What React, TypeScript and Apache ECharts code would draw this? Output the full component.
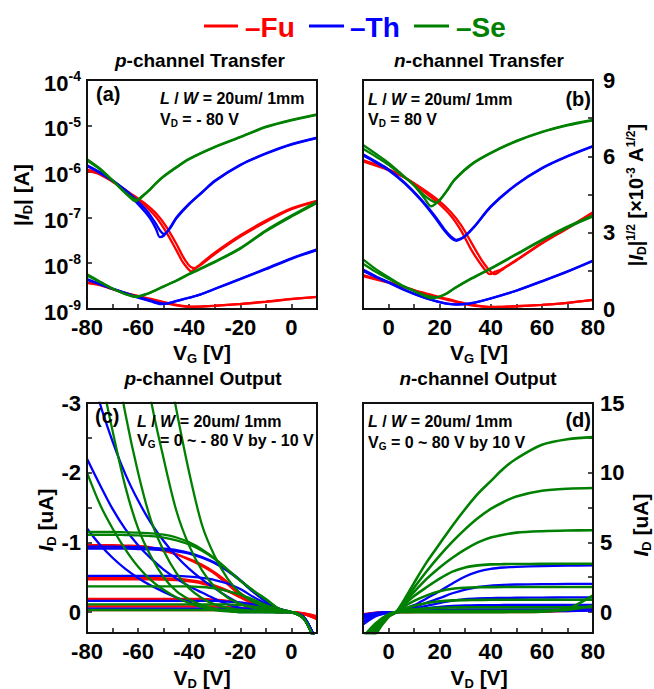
import React, { useEffect, useRef } from 'react';
import * as echarts from 'echarts';

const FONT = '"Liberation Sans", Arial, Helvetica, sans-serif';
const RED = '#ff0000';
const BLUE = '#0000ff';
const GREEN = '#008000';
const INK = '#111111';

// ---------- (a) p-channel transfer, V_D = -80 V : |I_D| in A ----------
const aFuV1 = [-80, -75, -70, -65, -61, -57, -53, -49, -45, -42.5, -40.5, -39.2, -38, -35, -30, -20, -10, 0, 10];
const aFuI1 = [1.10e-6, 9.12e-7, 6.17e-7, 3.89e-7, 2.63e-7, 1.74e-7, 1.02e-7, 4.79e-8, 1.91e-8, 1.05e-8, 7.59e-9, 6.61e-9, 7.41e-9, 9.55e-9, 1.58e-8, 3.80e-8, 7.94e-8, 1.51e-7, 2.24e-7];
const aFuV2 = [-80, -75, -70, -65, -61, -57, -53, -49, -45, -42.5, -40.5, -39.2, -37.9, -36.5, -35, -30, -20, -10, 0, 10];
const aFuI2 = [1.05e-6, 8.71e-7, 6.03e-7, 3.98e-7, 2.82e-7, 1.95e-7, 1.23e-7, 6.31e-8, 2.63e-8, 1.41e-8, 9.55e-9, 8.13e-9, 7.76e-9, 8.71e-9, 1.02e-8, 1.70e-8, 4.07e-8, 8.51e-8, 1.58e-7, 2.29e-7];
const aThV1 = [-80, -75, -70, -65, -61, -57, -55, -53, -51.5, -50, -48.5, -47, -45, -40, -35, -30, -20, -10, 0, 10];
const aThI1 = [1.38e-6, 9.77e-7, 6.46e-7, 3.80e-7, 2.24e-7, 1.26e-7, 8.91e-8, 5.62e-8, 3.72e-8, 3.98e-8, 5.01e-8, 6.61e-8, 1.00e-7, 2.00e-7, 3.55e-7, 6.31e-7, 1.41e-6, 2.51e-6, 3.98e-6, 5.50e-6];
const aThV2 = [-80, -75, -70, -65, -61, -57, -55, -53, -51.5, -50, -49, -47.5, -45, -40, -35, -30, -20, -10, 0, 10];
const aThI2 = [1.32e-6, 9.33e-7, 6.31e-7, 3.98e-7, 2.51e-7, 1.48e-7, 1.07e-7, 7.24e-8, 5.25e-8, 4.37e-8, 4.57e-8, 5.75e-8, 9.55e-8, 1.95e-7, 3.47e-7, 6.17e-7, 1.38e-6, 2.45e-6, 3.89e-6, 5.37e-6];
const aSeV1 = [-80, -75, -70, -65, -62, -61, -59, -56, -53, -50, -45, -40, -30, -20, -10, 0, 10];
const aSeI1 = [1.86e-6, 1.17e-6, 6.46e-7, 3.39e-7, 2.40e-7, 2.24e-7, 2.75e-7, 3.80e-7, 5.62e-7, 7.94e-7, 1.26e-6, 1.91e-6, 3.47e-6, 5.75e-6, 9.55e-6, 1.35e-5, 1.78e-5];
const aSeV2 = [-80, -75, -70, -65, -62, -60, -58, -56, -53, -50, -45, -40, -30, -20, -10, 0, 10];
const aSeI2 = [1.74e-6, 1.12e-6, 6.31e-7, 3.47e-7, 2.63e-7, 2.40e-7, 2.95e-7, 3.72e-7, 5.50e-7, 7.76e-7, 1.23e-6, 1.86e-6, 3.39e-6, 5.62e-6, 9.33e-6, 1.32e-5, 1.74e-5];

// ---------- (b) n-channel transfer, V_D = 80 V ----------
const bFuV1 = [-10, 0, 6.3, 12.8, 19.3, 24.6, 28.5, 32.4, 36.3, 38.9, 39.8, 41.5, 44.2, 50, 60, 70, 80];
const bFuI1 = [1.78e-6, 1.12e-6, 7.41e-7, 4.07e-7, 2.09e-7, 1.05e-7, 5.01e-8, 1.95e-8, 9.12e-9, 6.03e-9, 5.75e-9, 6.46e-9, 7.41e-9, 1.17e-8, 2.75e-8, 5.89e-8, 1.29e-7];
const bFuV2 = [-10, 0, 6.3, 12.8, 19.3, 24.6, 28.5, 32.4, 36.3, 38.9, 40.5, 41.6, 43, 45, 50, 60, 70, 80];
const bFuI2 = [1.66e-6, 1.07e-6, 7.41e-7, 4.37e-7, 2.40e-7, 1.26e-7, 6.61e-8, 2.82e-8, 1.20e-8, 7.59e-9, 6.17e-9, 5.75e-9, 6.31e-9, 7.59e-9, 1.15e-8, 2.69e-8, 5.75e-8, 1.26e-7];
const bThV = [-10, -5, 0, 6.3, 12.8, 18, 22, 24.5, 26.5, 28, 29.8, 33.7, 40, 50, 60, 70, 80];
const bThI1 = [2.40e-6, 1.66e-6, 1.12e-6, 5.75e-7, 2.45e-7, 1.10e-7, 5.37e-8, 3.80e-8, 3.24e-8, 3.39e-8, 3.89e-8, 6.46e-8, 1.74e-7, 5.25e-7, 1.20e-6, 2.19e-6, 3.63e-6];
const bThI2 = [2.24e-6, 1.58e-6, 1.07e-6, 5.50e-7, 2.34e-7, 1.02e-7, 5.01e-8, 3.55e-8, 3.09e-8, 3.31e-8, 3.80e-8, 6.31e-8, 1.70e-7, 5.13e-7, 1.17e-6, 2.14e-6, 3.55e-6];
const bSeV1 = [-10, -5, 0, 5, 10, 14, 16.7, 18.5, 20.7, 23, 25.9, 32.4, 40, 50, 60, 70, 80];
const bSeI1 = [3.80e-6, 2.45e-6, 1.55e-6, 8.91e-7, 5.01e-7, 2.63e-7, 1.74e-7, 2.00e-7, 2.69e-7, 3.98e-7, 6.76e-7, 1.45e-6, 2.57e-6, 4.68e-6, 7.41e-6, 1.05e-5, 1.35e-5];
const bSeV2 = [-10, -5, 0, 5, 10, 14, 16.7, 18.7, 20.7, 23, 25.9, 32.4, 40, 50, 60, 70, 80];
const bSeI2 = [3.16e-6, 2.14e-6, 1.41e-6, 8.51e-7, 5.01e-7, 3.02e-7, 2.34e-7, 2.09e-7, 2.63e-7, 3.89e-7, 6.61e-7, 1.41e-6, 2.51e-6, 4.57e-6, 7.24e-6, 1.02e-5, 1.32e-5];

// ---------- (c) p-channel output, I_D in uA ----------
const vdP = [-80, -75, -70, -65, -60, -55, -50, -45, -40, -35, -30, -25, -20, -15, -10, -5, 0, 5, 10];
const cFu80a = [-0.96, -0.96, -0.96, -0.955, -0.95, -0.93, -0.89, -0.83, -0.75, -0.66, -0.55, -0.40, -0.24, -0.13, -0.06, -0.02, 0, 0.03, 0.1];
const cFu80b = [-0.93, -0.93, -0.93, -0.925, -0.92, -0.91, -0.88, -0.83, -0.76, -0.68, -0.57, -0.43, -0.27, -0.15, -0.07, -0.02, 0, 0.03, 0.1];
const cFu70a = [-0.49, -0.49, -0.49, -0.49, -0.49, -0.49, -0.485, -0.48, -0.46, -0.43, -0.38, -0.31, -0.22, -0.13, -0.06, -0.02, 0, 0.03, 0.09];
const cFu70b = [-0.47, -0.47, -0.47, -0.47, -0.47, -0.47, -0.465, -0.46, -0.44, -0.41, -0.36, -0.30, -0.21, -0.12, -0.06, -0.02, 0, 0.03, 0.09];
const cFu60 = [-0.19, -0.19, -0.19, -0.19, -0.19, -0.19, -0.19, -0.19, -0.19, -0.19, -0.18, -0.16, -0.13, -0.09, -0.05, -0.02, 0, 0.03, 0.08];
const cFu50 = [-0.08, -0.08, -0.08, -0.08, -0.08, -0.08, -0.08, -0.08, -0.08, -0.08, -0.08, -0.07, -0.06, -0.05, -0.03, -0.01, 0, 0.02, 0.07];
const cFu40 = [-0.03, -0.03, -0.03, -0.03, -0.03, -0.03, -0.03, -0.03, -0.03, -0.03, -0.03, -0.03, -0.02, -0.02, -0.01, 0, 0, 0.02, 0.06];
const cTh80a = [-0.94, -0.94, -0.94, -0.935, -0.93, -0.92, -0.91, -0.89, -0.85, -0.79, -0.71, -0.60, -0.46, -0.30, -0.16, -0.05, 0, 0.08, 0.45];
const cTh80b = [-0.91, -0.91, -0.91, -0.91, -0.905, -0.9, -0.89, -0.87, -0.84, -0.78, -0.70, -0.59, -0.45, -0.29, -0.15, -0.05, 0, 0.08, 0.45];
const cTh70 = [-0.52, -0.52, -0.52, -0.52, -0.52, -0.52, -0.52, -0.52, -0.51, -0.49, -0.46, -0.41, -0.33, -0.22, -0.12, -0.04, 0, 0.08, 0.45];
const cTh60 = [-0.16, -0.16, -0.16, -0.16, -0.16, -0.16, -0.16, -0.16, -0.16, -0.16, -0.16, -0.15, -0.14, -0.11, -0.07, -0.02, 0, 0.08, 0.45];
const cTh50 = [-0.05, -0.05, -0.05, -0.05, -0.05, -0.05, -0.05, -0.05, -0.05, -0.05, -0.05, -0.05, -0.05, -0.04, -0.03, -0.01, 0, 0.08, 0.45];
const cThAmb1 = [-2.2, -1.83, -1.48, -1.19, -0.96, -0.77, -0.61, -0.48, -0.37, -0.28, -0.19, -0.11, -0.06, -0.03, -0.01, 0, 0, 0.08, 0.45];
const cThAmb2 = [-3.7, -3.0, -2.45, -1.98, -1.60, -1.28, -1.02, -0.80, -0.62, -0.47, -0.34, -0.22, -0.12, -0.05, -0.02, 0, 0, 0.08, 0.45];
const cThAmb3 = [-1.2, -0.97, -0.78, -0.62, -0.49, -0.38, -0.29, -0.21, -0.14, -0.08, -0.04, -0.02, 0, 0, 0, 0, 0, 0.08, 0.45];
const cSe80a = [-1.15, -1.15, -1.15, -1.145, -1.14, -1.13, -1.11, -1.07, -1.00, -0.90, -0.77, -0.61, -0.45, -0.31, -0.19, -0.05, 0, 0.1, 0.5];
const cSe80b = [-1.11, -1.11, -1.11, -1.105, -1.1, -1.09, -1.07, -1.03, -0.97, -0.88, -0.76, -0.61, -0.45, -0.31, -0.18, -0.05, 0, 0.1, 0.5];
const cSe70 = [-0.37, -0.37, -0.37, -0.37, -0.37, -0.37, -0.37, -0.37, -0.37, -0.36, -0.34, -0.30, -0.25, -0.18, -0.10, -0.03, 0, 0.1, 0.5];
const cSe60 = [-0.11, -0.11, -0.11, -0.11, -0.11, -0.11, -0.11, -0.11, -0.11, -0.11, -0.11, -0.11, -0.10, -0.08, -0.05, -0.02, 0, 0.1, 0.5];
const cSe50 = [-0.03, -0.03, -0.03, -0.03, -0.03, -0.03, -0.03, -0.03, -0.03, -0.03, -0.03, -0.03, -0.03, -0.02, -0.01, 0, 0, 0.1, 0.5];
const cSeAmbA = [null, null, null, null, null, -5.0, -3.9, -2.9, -2.0, -1.25, -0.80, -0.48, -0.27, -0.15, -0.07, -0.02, 0, 0.1, 0.5];
const cSeAmbB = [null, null, null, null, -4.3, -3.05, -2.2, -1.45, -0.95, -0.60, -0.36, -0.21, -0.12, -0.06, -0.02, 0, 0, 0.1, 0.5];
const cSeAmbC = [null, null, -3.9, -2.85, -2.0, -1.32, -0.88, -0.56, -0.34, -0.20, -0.11, -0.06, -0.03, -0.01, 0, 0, 0, 0.1, 0.5];
const cSeAmbD = [-4.6, -3.5, -2.6, -1.8, -1.2, -0.80, -0.50, -0.30, -0.18, -0.10, -0.05, -0.02, 0, 0, 0, 0, 0, 0.1, 0.5];
const cSeAmbE = [-2.0, -1.55, -1.2, -0.9, -0.65, -0.46, -0.32, -0.21, -0.13, -0.07, -0.03, -0.01, 0, 0, 0, 0, 0, 0.1, 0.5];

// ---------- (d) n-channel output, I_D in uA ----------
const vdN = [-10, -5, 0, 3, 5, 10, 15, 20, 25, 30, 35, 40, 45, 50, 60, 70, 80];
const dFu80 = [-0.3, -0.08, -0.01, 0, 0.01, 0.02, 0.04, 0.05, 0.06, 0.07, 0.08, 0.08, 0.09, 0.1, 0.13, 0.2, 0.35];
const dFu70 = [-0.2, -0.05, 0, 0, 0, 0.01, 0.02, 0.03, 0.03, 0.04, 0.04, 0.05, 0.05, 0.05, 0.07, 0.12, 0.22];
const dFu0 = [-0.15, -0.04, 0, 0, 0, 0, 0, 0, 0, 0, 0, 0, 0, 0, 0.02, 0.08, 0.15];
const dTh80 = [-0.9, -0.3, -0.05, 0, 0.15, 0.5, 1.0, 1.5, 2.05, 2.55, 2.9, 3.1, 3.2, 3.25, 3.3, 3.33, 3.35];
const dTh70 = [-0.7, -0.25, -0.04, 0, 0.1, 0.35, 0.68, 1.0, 1.35, 1.62, 1.8, 1.9, 1.95, 1.98, 2.0, 2.02, 2.03];
const dTh60 = [-0.5, -0.18, -0.03, 0, 0.07, 0.25, 0.45, 0.65, 0.82, 0.93, 0.98, 1.0, 1.02, 1.03, 1.04, 1.05, 1.05];
const dTh50 = [-0.35, -0.12, -0.02, 0, 0.04, 0.15, 0.28, 0.38, 0.44, 0.48, 0.5, 0.5, 0.51, 0.52, 0.52, 0.52, 0.52];
const dTh40 = [-0.25, -0.08, -0.01, 0, 0.02, 0.07, 0.12, 0.16, 0.18, 0.19, 0.2, 0.2, 0.2, 0.2, 0.2, 0.2, 0.2];
const dTh30 = [-0.18, -0.05, 0, 0, 0.01, 0.03, 0.05, 0.06, 0.07, 0.07, 0.07, 0.07, 0.07, 0.07, 0.07, 0.08, 0.1];
const dSe80 = [-3.5, -1.6, -0.35, 0, 0.55, 2.1, 3.6, 4.9, 6.2, 7.4, 8.5, 9.4, 10.3, 11.0, 12.0, 12.4, 12.55];
const dSe70 = [-3.2, -1.5, -0.32, 0, 0.48, 1.75, 2.95, 4.05, 5.05, 5.95, 6.75, 7.4, 7.9, 8.3, 8.7, 8.85, 8.9];
const dSe60 = [-2.9, -1.4, -0.3, 0, 0.42, 1.45, 2.4, 3.2, 3.9, 4.5, 5.0, 5.35, 5.55, 5.7, 5.8, 5.85, 5.87];
const dSe50 = [-2.6, -1.3, -0.27, 0, 0.35, 1.15, 1.8, 2.4, 2.9, 3.2, 3.35, 3.42, 3.44, 3.45, 3.46, 3.47, 3.47];
const dSe40 = [-2.4, -1.2, -0.25, 0, 0.28, 0.8, 1.2, 1.5, 1.68, 1.75, 1.78, 1.79, 1.8, 1.8, 1.8, 1.8, 1.8];
const dSe30 = [-2.2, -1.1, -0.22, 0, 0.18, 0.45, 0.65, 0.78, 0.84, 0.86, 0.87, 0.88, 0.88, 0.88, 0.88, 0.88, 0.88];
const dSe20 = [-2.0, -1.0, -0.2, 0, 0.1, 0.2, 0.27, 0.31, 0.33, 0.34, 0.35, 0.35, 0.35, 0.35, 0.35, 0.35, 0.36];
const dSe10 = [-1.9, -0.9, -0.18, 0, 0.03, 0.06, 0.08, 0.09, 0.1, 0.1, 0.1, 0.1, 0.1, 0.1, 0.11, 0.16, 0.45];
const dSe0 = [-1.8, -0.8, -0.15, 0, 0, 0, 0, 0, 0, 0, 0, 0, 0, 0.01, 0.03, 0.25, 1.2];

// ---------- axis ticks / labels ----------
const tickP = [-80, -70, -60, -50, -40, -30, -20, -10, 0, 10];
const labP = [-80, -60, -40, -20, 0];
const tickN = [-10, 0, 10, 20, 30, 40, 50, 60, 70, 80];
const labN = [0, 20, 40, 60, 80];
const sqrtTicks = [0, 1.5, 3, 4.5, 6, 7.5, 9];
const sqrtLabels = [0, 3, 6, 9];
const cTicks = [-3, -2.5, -2, -1.5, -1, -0.5, 0];
const cLabels = [-3, -2, -1, 0];
const dTicks = [0, 2.5, 5, 7.5, 10, 12.5, 15];
const dLabels = [0, 5, 10, 15];

function rich(fs: number) {
  const sub = Math.round(fs * 0.62);
  const pad = Math.round(fs * 0.55);
  return {
    r: { fontSize: fs, fontWeight: 'bold', fontFamily: FONT },
    i: { fontSize: fs, fontWeight: 'bold', fontStyle: 'italic', fontFamily: FONT },
    s: { fontSize: sub, fontWeight: 'bold', fontFamily: FONT, padding: [pad, 0, 0, 0] },
    p: { fontSize: sub, fontWeight: 'bold', fontFamily: FONT, padding: [0, 0, pad, 0] },
  };
}

function txt(x: number, y: number, text: string, fs: number, opts: any = {}) {
  const { align = 'left', rotation = 0, fill = '#000' } = opts;
  return {
    type: 'text',
    x,
    y,
    rotation,
    z: 100,
    silent: true,
    style: {
      text,
      rich: rich(fs),
      fill,
      fontSize: fs,
      fontWeight: 'bold',
      fontFamily: FONT,
      align,
      textAlign: align,
      verticalAlign: 'middle',
      textVerticalAlign: 'middle',
    },
  };
}

function frame(x: number, y: number, w: number, h: number) {
  return {
    type: 'rect',
    z: 90,
    silent: true,
    shape: { x, y, width: w, height: h },
    style: { fill: 'none', stroke: INK, lineWidth: 2 },
  };
}

function line(xi: number, yi: number, xs: number[], ys: (number | null)[], color: string, width = 2.3) {
  const data: number[][] = [];
  xs.forEach((x, k) => {
    const y = ys[k];
    if (y !== null && y !== undefined) data.push([x, y]);
  });
  return {
    type: 'line',
    xAxisIndex: xi,
    yAxisIndex: yi,
    data,
    symbol: 'none',
    showSymbol: false,
    smooth: 0.3,
    silent: true,
    clip: true,
    lineStyle: { color, width },
    emphasis: { disabled: true },
  };
}

const sq = (arr: number[]) => arr.map((v) => Math.sqrt(v) * 1e3);

const tickStyle = { color: INK, width: 1.5 };
const labelBase = { fontSize: 22, fontWeight: 'bold', fontFamily: FONT, color: '#000' };

function xAxis(gridIndex: number, min: number, max: number, ticks: number[], labels: number[]) {
  return {
    type: 'value',
    gridIndex,
    min,
    max,
    position: 'bottom',
    axisLine: { show: false, onZero: false },
    axisTick: { show: true, inside: true, length: 5, customValues: ticks, lineStyle: tickStyle },
    axisLabel: { ...labelBase, customValues: labels, margin: 7 },
    splitLine: { show: false },
  };
}

function yAxis(gridIndex: number, min: number, max: number, ticks: number[], labels: number[], position: string, margin: number, extra: any = {}) {
  return {
    type: 'value',
    gridIndex,
    min,
    max,
    position,
    axisLine: { show: false, onZero: false },
    axisTick: { show: true, inside: true, length: 5, customValues: ticks, lineStyle: tickStyle },
    axisLabel: { ...labelBase, customValues: labels, margin },
    splitLine: { show: false },
    ...extra,
  };
}

function buildOption() {
  const gridBase = { show: false, containLabel: false };
  const G = [
    { left: 87, top: 80, width: 230, height: 229 },
    { left: 363, top: 80, width: 230, height: 229 },
    { left: 87, top: 403, width: 230, height: 230 },
    { left: 363, top: 403, width: 230, height: 230 },
  ];
  const grid = G.map((g) => ({ ...gridBase, ...g }));
  const xAxes = [
    xAxis(0, -80, 10, tickP, labP),
    xAxis(1, -10, 80, tickN, labN),
    xAxis(2, -80, 10, tickP, labP),
    xAxis(3, -10, 80, tickN, labN),
  ];
  const yAxes = [
    {
      type: 'log',
      gridIndex: 0,
      min: 1e-9,
      max: 1e-4,
      logBase: 10,
      position: 'left',
      axisLine: { show: false, onZero: false },
      axisTick: { show: true, inside: true, length: 5, lineStyle: tickStyle },
      splitLine: { show: false },
      axisLabel: {
        margin: 6,
        color: '#000',
        formatter: (v: number) => `{m|10}{s|${Math.round(Math.log10(v))}}`,
        rich: {
          m: { fontSize: 22, fontWeight: 'bold', fontFamily: FONT, padding: [6, 0, 0, 0] },
          s: { fontSize: 14, fontWeight: 'bold', fontFamily: FONT, padding: [0, 0, 8, 0] },
        },
      },
    },
    { type: 'value', gridIndex: 0, min: 0, max: 9, position: 'right', show: false, axisLine: { onZero: false } },
    { type: 'log', gridIndex: 1, min: 1e-9, max: 1e-4, logBase: 10, position: 'left', show: false, axisLine: { onZero: false } },
    yAxis(1, 0, 9, sqrtTicks, sqrtLabels, 'right', 10),
    yAxis(2, -3, 0.3, cTicks, cLabels, 'left', 6, { inverse: true }),
    yAxis(3, -1.5, 15, dTicks, dLabels, 'right', 7),
  ];

  const series: any[] = [];
  // (a)
  const aSets: [number[], number[], string][] = [
    [aFuV1, aFuI1, RED], [aFuV2, aFuI2, RED],
    [aThV1, aThI1, BLUE], [aThV2, aThI2, BLUE],
    [aSeV1, aSeI1, GREEN], [aSeV2, aSeI2, GREEN],
  ];
  aSets.forEach(([v, i, c]) => {
    series.push(line(0, 0, v, i, c));
    series.push(line(0, 1, v, sq(i), c));
  });
  // (b)
  const bSets: [number[], number[], string][] = [
    [bFuV1, bFuI1, RED], [bFuV2, bFuI2, RED],
    [bThV, bThI1, BLUE], [bThV, bThI2, BLUE],
    [bSeV1, bSeI1, GREEN], [bSeV2, bSeI2, GREEN],
  ];
  bSets.forEach(([v, i, c]) => {
    series.push(line(1, 2, v, i, c));
    series.push(line(1, 3, v, sq(i), c));
  });
  // (c)
  [cFu80a, cFu80b, cFu70a, cFu70b, cFu60, cFu50, cFu40].forEach((y) => series.push(line(2, 4, vdP, y, RED)));
  [cTh80a, cTh80b, cTh70, cTh60, cTh50, cThAmb1, cThAmb2, cThAmb3].forEach((y) => series.push(line(2, 4, vdP, y, BLUE)));
  [cSe80a, cSe80b, cSe70, cSe60, cSe50, cSeAmbA, cSeAmbB, cSeAmbC, cSeAmbD, cSeAmbE].forEach((y) => series.push(line(2, 4, vdP, y, GREEN)));
  // (d)
  [dFu80, dFu70, dFu0].forEach((y) => series.push(line(3, 5, vdN, y, RED)));
  [dTh80, dTh70, dTh60, dTh50, dTh40, dTh30].forEach((y) => series.push(line(3, 5, vdN, y, BLUE)));
  [dSe80, dSe70, dSe60, dSe50, dSe40, dSe30, dSe20, dSe10, dSe0].forEach((y) => series.push(line(3, 5, vdN, y, GREEN, 2.6)));

  const legendY = 26;
  const graphic: any[] = [
    ...G.map((g) => frame(g.left, g.top, g.width, g.height)),
    { type: 'line', z: 100, shape: { x1: 204, y1: legendY, x2: 238, y2: legendY }, style: { stroke: RED, lineWidth: 3 } },
    { type: 'line', z: 100, shape: { x1: 309, y1: legendY, x2: 344, y2: legendY }, style: { stroke: BLUE, lineWidth: 3 } },
    { type: 'line', z: 100, shape: { x1: 414, y1: legendY, x2: 449, y2: legendY }, style: { stroke: GREEN, lineWidth: 3 } },
    txt(245, 27, '{r|–Fu}', 28, { fill: RED }),
    txt(350, 27, '{r|–Th}', 28, { fill: BLUE }),
    txt(456, 27, '{r|–Se}', 28, { fill: GREEN }),
    // titles
    txt(200, 60, '{i|p}{r|-channel Transfer}', 19, { align: 'center' }),
    txt(479, 60, '{i|n}{r|-channel Transfer}', 19, { align: 'center' }),
    txt(203, 378, '{i|p}{r|-channel Output}', 19, { align: 'center' }),
    txt(478, 378, '{i|n}{r|-channel Output}', 19, { align: 'center' }),
    // axis names
    txt(21, 195, '{r||}{i|I}{s|D}{r|| [A]}', 21, { align: 'center', rotation: Math.PI / 2 }),
    txt(202, 352, '{r|V}{s|G}{r| [V]}', 21, { align: 'center' }),
    txt(479, 352, '{r|V}{s|G}{r| [V]}', 21, { align: 'center' }),
    txt(636, 195, '{r||}{i|I}{s|D}{r||}{p|1/2}{r| [×10}{p|-3}{r| A}{p|1/2}{r|]}', 20, { align: 'center', rotation: Math.PI / 2 }),
    txt(45, 520, '{i|I}{s|D}{r| [uA]}', 21, { align: 'center', rotation: Math.PI / 2 }),
    txt(202, 677, '{r|V}{s|D}{r| [V]}', 21, { align: 'center' }),
    txt(479, 677, '{r|V}{s|D}{r| [V]}', 21, { align: 'center' }),
    txt(640, 525, '{i|I}{s|D}{r| [uA]}', 21, { align: 'center', rotation: Math.PI / 2 }),
    // panel annotations
    txt(96, 94, '{r|(a)}', 20),
    txt(160, 98, '{i|L}{r| / }{i|W}{r| = 20um/ 1mm}', 16),
    txt(160, 119, '{r|V}{s|D}{r| = - 80 V}', 16),
    txt(591, 99, '{r|(b)}', 20, { align: 'right' }),
    txt(368, 99, '{i|L}{r| / }{i|W}{r| = 20um/ 1mm}', 16),
    txt(368, 119, '{r|V}{s|D}{r| = 80 V}', 16),
    txt(95, 416, '{r|(c)}', 20),
    txt(137, 421, '{i|L}{r| / }{i|W}{r| = 20um/ 1mm}', 16),
    txt(137, 440, '{r|V}{s|G}{r| = 0 ~ - 80 V by - 10 V}', 16),
    txt(591, 420, '{r|(d)}', 20, { align: 'right' }),
    txt(368, 421, '{i|L}{r| / }{i|W}{r| = 20um/ 1mm}', 16),
    txt(368, 442, '{r|V}{s|G}{r| = 0 ~ 80 V by 10 V}', 16),
  ];

  return {
    animation: false,
    backgroundColor: '#ffffff',
    grid,
    xAxis: xAxes,
    yAxis: yAxes,
    series,
    graphic,
  };
}

export default function App() {
  const ref = useRef<HTMLDivElement>(null);
  useEffect(() => {
    const chart = echarts.init(ref.current as HTMLDivElement, null, { renderer: 'svg' });
    chart.setOption(buildOption() as any);
    return () => chart.dispose();
  }, []);
  return <div ref={ref} style={{ position: 'absolute', left: 0, top: 0, width: 654, height: 689 }} />;
}
